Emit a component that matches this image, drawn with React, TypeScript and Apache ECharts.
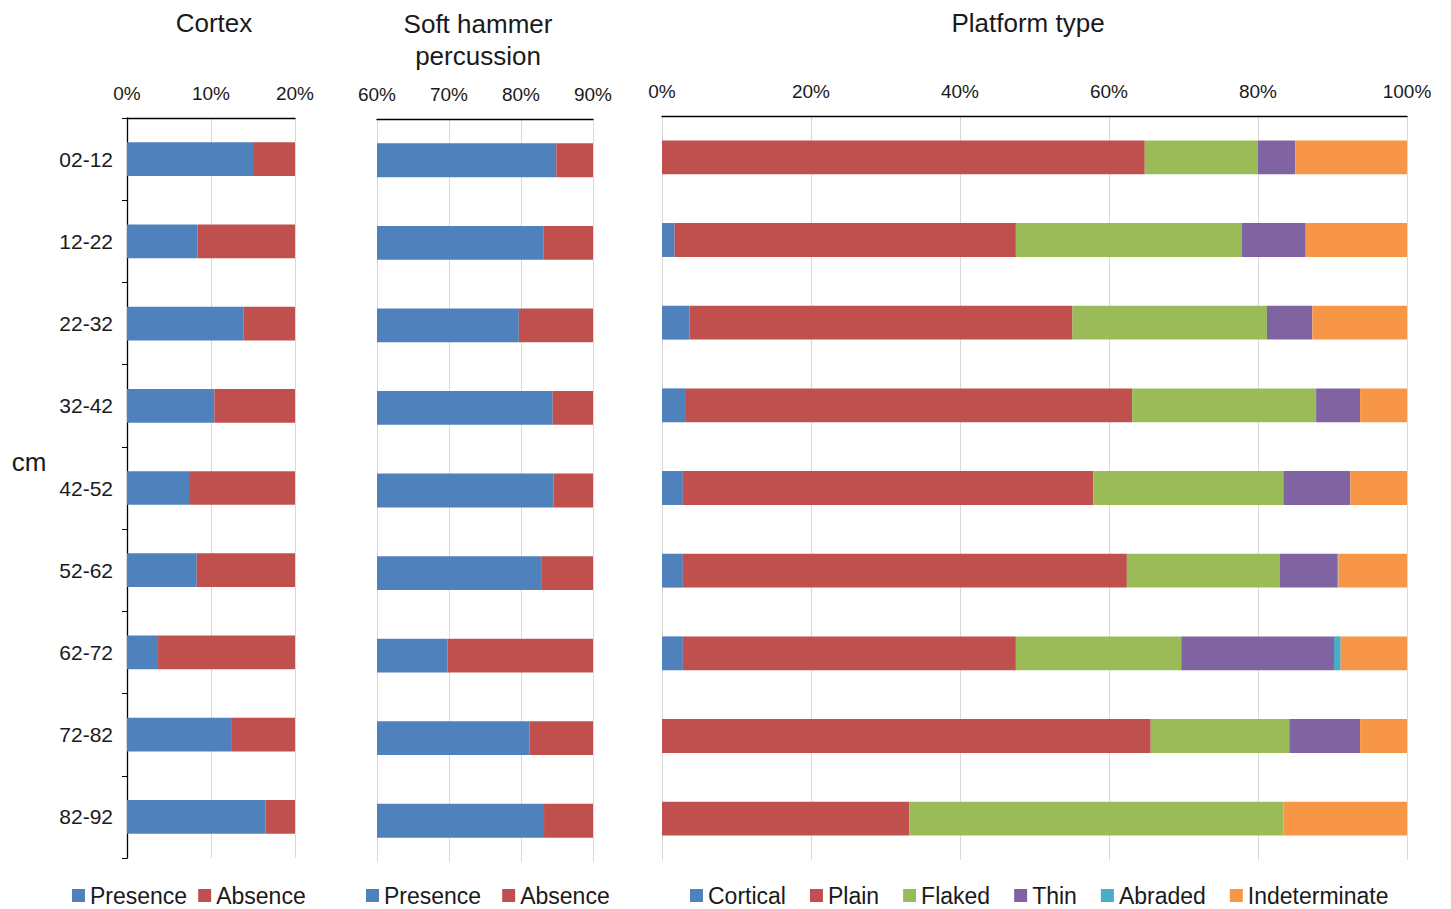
import React, { useEffect, useRef } from "react";
import * as echarts from "echarts";

const depths = ["02-12", "12-22", "22-32", "32-42", "42-52", "52-62", "62-72", "72-82", "82-92"];

const cortexPresence = [15.0, 8.4, 13.9, 10.4, 7.5, 8.3, 3.7, 12.4, 16.5];
const cortexAbsence = [85.0, 91.6, 86.1, 89.6, 92.5, 91.7, 96.3, 87.6, 83.5];

const softPresence = [84.9, 83.1, 79.7, 84.4, 84.5, 82.8, 69.8, 81.2, 83.2];
const softAbsence = [15.1, 16.9, 20.3, 15.6, 15.5, 17.2, 30.2, 18.8, 16.8];

const cortical = [0, 1.7, 3.7, 3.1, 2.8, 2.8, 2.8, 0, 0];
const plain = [64.8, 45.8, 51.4, 60.0, 55.1, 59.6, 44.7, 65.6, 33.2];
const flaked = [15.2, 30.3, 26.1, 24.7, 25.5, 20.5, 22.2, 18.6, 50.2];
const thin = [5.0, 8.6, 6.1, 5.9, 9.0, 7.7, 20.5, 9.5, 0];
const abraded = [0, 0, 0, 0, 0, 0.2, 0.9, 0, 0];
const indeterminate = [15.0, 13.6, 12.7, 6.3, 7.6, 9.2, 8.9, 6.3, 16.6];

const platformNames = ["Cortical", "Plain", "Flaked", "Thin", "Abraded", "Indeterminate"];
const platformData = [cortical, plain, flaked, thin, abraded, indeterminate];
const platformColors = ["#4F81BD", "#C0504D", "#9BBB59", "#8064A2", "#4BACC6", "#F79646"];

const BLUE = "#4F81BD";
const RED = "#C0504D";
const FONT = "'Liberation Sans', Arial, sans-serif";
const TXT = "#1a1a1a";

export default function App() {
  const ref = useRef<HTMLDivElement>(null);

  useEffect(() => {
    if (!ref.current) return;
    const chart = echarts.init(ref.current, null, { renderer: "svg" });

    const xAxisBase = (gridIndex: number, min: number, max: number, interval: number) => ({
      type: "value",
      gridIndex,
      position: "top",
      min,
      max,
      interval,
      axisLine: { show: true, onZero: false, lineStyle: { color: "#000", width: 1.3 } },
      axisTick: { show: false },
      axisLabel: { formatter: "{value}%", fontSize: 19, color: TXT, margin: 15, fontFamily: FONT },
      splitLine: { show: true, lineStyle: { color: "#d9d9d9", width: 1 } },
    });

    const yAxisHidden = (gridIndex: number) => ({
      type: "category",
      gridIndex,
      inverse: true,
      data: depths,
      axisLine: { show: false },
      axisTick: { show: false },
      axisLabel: { show: false },
      splitLine: { show: false },
    });

    const legendBase = {
      top: 884,
      itemWidth: 13,
      itemHeight: 13,
      icon: "rect",
      selectedMode: false,
      padding: 0,
      textStyle: { fontSize: 23, lineHeight: 22, color: TXT, fontFamily: FONT },
    };

    const option: any = {
      animation: false,
      textStyle: { fontFamily: FONT },
      grid: [
        { left: 127, top: 118, width: 168, height: 740 },
        { left: 377, top: 119, width: 216, height: 743 },
        { left: 662, top: 116, width: 745, height: 744 },
      ],
      xAxis: [
        xAxisBase(0, 0, 20, 10),
        xAxisBase(1, 60, 90, 10),
        xAxisBase(2, 0, 100, 20),
      ],
      yAxis: [
        {
          type: "category",
          gridIndex: 0,
          inverse: true,
          data: depths,
          axisLine: { show: true, lineStyle: { color: "#000", width: 1.3 } },
          axisTick: { show: true, length: 5, lineStyle: { color: "#000" } },
          axisLabel: { fontSize: 21, color: TXT, margin: 14, fontFamily: FONT },
          splitLine: { show: false },
        },
        yAxisHidden(1),
        yAxisHidden(2),
      ],
      legend: [
        { ...legendBase, left: 72, itemGap: 11, data: ["Presence", "Absence"] },
        { ...legendBase, left: 366, itemGap: 21, data: ["Presence", "Absence"] },
        { ...legendBase, left: 690, itemGap: 24, data: platformNames },
      ],
      graphic: [
        { type: "text", x: 214, y: 23, style: { text: "Cortex", fontSize: 26, fontFamily: FONT, fill: TXT, textAlign: "center", textVerticalAlign: "middle" } },
        { type: "text", x: 478, y: 24, style: { text: "Soft hammer", fontSize: 26, fontFamily: FONT, fill: TXT, textAlign: "center", textVerticalAlign: "middle" } },
        { type: "text", x: 478, y: 56, style: { text: "percussion", fontSize: 26, fontFamily: FONT, fill: TXT, textAlign: "center", textVerticalAlign: "middle" } },
        { type: "text", x: 1028, y: 23, style: { text: "Platform type", fontSize: 26, fontFamily: FONT, fill: TXT, textAlign: "center", textVerticalAlign: "middle" } },
        { type: "text", x: 29, y: 462, style: { text: "cm", fontSize: 26, fontFamily: FONT, fill: TXT, textAlign: "center", textVerticalAlign: "middle" } },
      ],
      series: [
        { name: "Presence", type: "bar", xAxisIndex: 0, yAxisIndex: 0, stack: "cortex", barWidth: "41%", itemStyle: { color: BLUE }, data: cortexPresence },
        { name: "Absence", type: "bar", xAxisIndex: 0, yAxisIndex: 0, stack: "cortex", barWidth: "41%", itemStyle: { color: RED }, data: cortexAbsence },
        { name: "Presence", type: "bar", xAxisIndex: 1, yAxisIndex: 1, stack: "soft", barWidth: "41%", itemStyle: { color: BLUE }, data: softPresence },
        { name: "Absence", type: "bar", xAxisIndex: 1, yAxisIndex: 1, stack: "soft", barWidth: "41%", itemStyle: { color: RED }, data: softAbsence },
        ...platformNames.map((name, i) => ({
          name,
          type: "bar",
          xAxisIndex: 2,
          yAxisIndex: 2,
          stack: "platform",
          barWidth: "41%",
          itemStyle: { color: platformColors[i] },
          data: platformData[i],
        })),
      ],
    };

    chart.setOption(option);
    return () => chart.dispose();
  }, []);

  return (
    <div
      ref={ref}
      style={{ position: "fixed", left: 0, top: 0, width: 1451, height: 909, background: "#fff" }}
    />
  );
}
